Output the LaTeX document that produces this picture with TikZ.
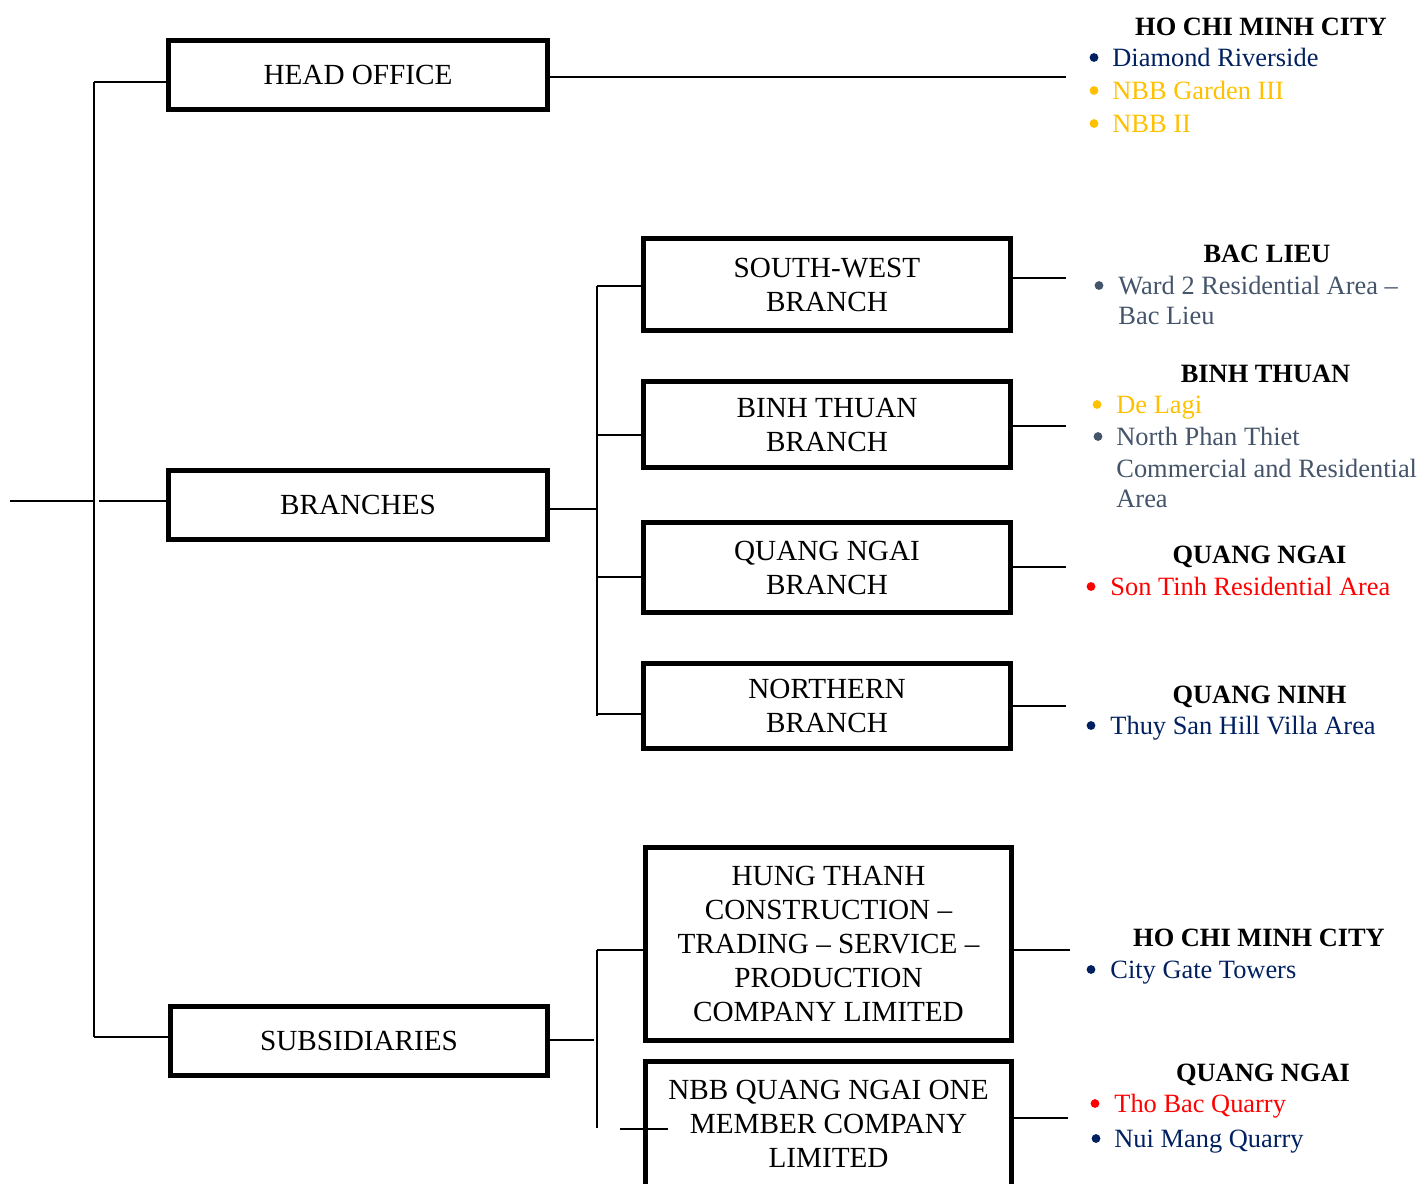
\documentclass[tikz,border=0pt]{standalone}
\usepackage{fontspec}
\setmainfont{Liberation Serif}
\definecolor{navyc}{HTML}{002060}
\definecolor{yellowc}{HTML}{FFC000}
\definecolor{slatec}{HTML}{44546A}
\definecolor{redc}{HTML}{FF0000}
\begin{document}
\begin{tikzpicture}[x=0.5pt,y=-0.5pt,
  box/.style={draw, line width=2.5pt, inner sep=0pt, align=center, font=\fontsize{14.6}{17}\selectfont},
  wire/.style={line width=0.8pt},
  head/.style={anchor=base, inner sep=0pt, font=\fontsize{13.2}{16}\selectfont\bfseries},
  item/.style={anchor=base west, inner sep=0pt, font=\fontsize{13.2}{16}\selectfont},
  dot/.style={circle, fill, inner sep=0pt, minimum size=4.4pt}]
\useasboundingbox (0,0) rectangle (1422,1183);

% main boxes
\node[box, minimum width=189.5pt, minimum height=34.5pt] (ho) at (358,75) {HEAD OFFICE};
\node[box, minimum width=189.5pt, minimum height=34.5pt] (br) at (358,505) {BRANCHES};
\node[box, minimum width=188.5pt, minimum height=34.5pt] (sub) at (359,1041) {SUBSIDIARIES};
% branches
\node[box, minimum width=183.5pt, minimum height=46pt] (sw) at (827,284.5) {SOUTH-WEST\\BRANCH};
\node[box, minimum width=183.5pt, minimum height=43pt] (bt) at (827,424.5) {BINH THUAN\\BRANCH};
\node[box, minimum width=183.5pt, minimum height=45pt] (qn) at (827,567.5) {QUANG NGAI\\BRANCH};
\node[box, minimum width=183.5pt, minimum height=42.5pt] (nb) at (827,706) {NORTHERN\\BRANCH};
% subsidiaries
\node[box, minimum width=183pt, minimum height=96.5pt] (ht) at (828.5,944) {HUNG THANH\\CONSTRUCTION –\\TRADING – SERVICE –\\PRODUCTION\\COMPANY LIMITED};
\node[box, minimum width=183pt, minimum height=62.5pt] (nbb) at (828.5,1124) {NBB QUANG NGAI ONE\\MEMBER COMPANY\\LIMITED};

% main spine
\coordinate (sp1) at (94,82);
\coordinate (sp2) at (94,1037);
\draw[wire] (sp1) -- (sp2);
\draw[wire] (sp1) -- (ho.west |- sp1);
\draw[wire] (sp2) -- (sub.west |- sp2);
\coordinate (inL) at (10,501);
\coordinate (inM) at (94,501);
\coordinate (inR) at (99,501);
\draw[wire] (inL) -- (inM);
\draw[wire] (inR) -- (br.west |- inR);

% branch spine
\coordinate (bs1) at (597,286);
\coordinate (bs2) at (597,716);
\coordinate (bsin) at (597,509);
\coordinate (bsbt) at (597,435);
\coordinate (bsqn) at (597,577);
\coordinate (bsnb) at (597,714);
\draw[wire] (bs1) -- (bs2);
\draw[wire] (br.east |- bsin) -- (bsin);
\draw[wire] (bs1) -- (sw.west |- bs1);
\draw[wire] (bsbt) -- (bt.west |- bsbt);
\draw[wire] (bsqn) -- (qn.west |- bsqn);
\draw[wire] (bsnb) -- (nb.west |- bsnb);

% subsidiary spine
\coordinate (ss1) at (597,950);
\coordinate (ss2) at (597,1128);
\coordinate (ssin) at (594,1040);
\coordinate (nbbL) at (620,1129);
\coordinate (nbbR) at (668,1129);
\draw[wire] (ss1) -- (ss2);
\draw[wire] (sub.east |- ssin) -- (ssin);
\draw[wire] (ss1) -- (ht.west |- ss1);
\draw[wire] (nbbL) -- (nbbR);

% right leaders
\coordinate (hoR) at (1066,77);
\coordinate (swR) at (1066,278);
\coordinate (btR) at (1066,426);
\coordinate (qnR) at (1066,567);
\coordinate (nbR) at (1066,706);
\coordinate (htR) at (1070,950);
\coordinate (nbbRR) at (1068,1118);
\draw[wire] (ho.east |- hoR) -- (hoR);
\draw[wire] (sw.east |- swR) -- (swR);
\draw[wire] (bt.east |- btR) -- (btR);
\draw[wire] (qn.east |- qnR) -- (qnR);
\draw[wire] (nb.east |- nbR) -- (nbR);
\draw[wire] (ht.east |- htR) -- (htR);
\draw[wire] (nbb.east |- nbbRR) -- (nbbRR);

% right texts
\node[head] (h1) at (1261,35) {HO CHI MINH CITY};
\node[dot, navyc] (d1a) at (1094,57.5) {};
\node[item, navyc] (t1a) at (1112,66) {Diamond Riverside};
\node[dot, yellowc] (d1b) at (1094,90.5) {};
\node[item, yellowc] (t1b) at (1112,99) {NBB Garden III};
\node[dot, yellowc] (d1c) at (1094,123.5) {};
\node[item, yellowc] (t1c) at (1112,132) {NBB II};

\node[head] (h2) at (1267,262) {BAC LIEU};
\node[dot, slatec] (d2a) at (1099,285.5) {};
\node[item, slatec] (t2a) at (1118,294) {Ward 2 Residential Area –};
\node[item, slatec] (t2b) at (1118,324) {Bac Lieu};

\node[head] (h3) at (1265.5,382) {BINH THUAN};
\node[dot, yellowc] (d3a) at (1097,404.5) {};
\node[item, yellowc] (t3a) at (1116,413) {De Lagi};
\node[dot, slatec] (d3b) at (1098,436.5) {};
\node[item, slatec] (t3b) at (1116,445) {North Phan Thiet};
\node[item, slatec] (t3c) at (1116,477) {Commercial and Residential};
\node[item, slatec] (t3d) at (1116,507) {Area};

\node[head] (h4) at (1259.5,563) {QUANG NGAI};
\node[dot, redc] (d4a) at (1091,586.5) {};
\node[item, redc] (t4a) at (1110,595) {Son Tinh Residential Area};

\node[head] (h5) at (1259.5,703) {QUANG NINH};
\node[dot, navyc] (d5a) at (1091,725.5) {};
\node[item, navyc] (t5a) at (1110,734) {Thuy San Hill Villa Area};

\node[head] (h6) at (1259,946) {HO CHI MINH CITY};
\node[dot, navyc] (d6a) at (1091,969.5) {};
\node[item, navyc] (t6a) at (1110,978) {City Gate Towers};

\node[head] (h7) at (1263,1081) {QUANG NGAI};
\node[dot, redc] (d7a) at (1095,1103.5) {};
\node[item, redc] (t7a) at (1114,1112) {Tho Bac Quarry};
\node[dot, navyc] (d7b) at (1096,1138.5) {};
\node[item, navyc] (t7b) at (1114,1147) {Nui Mang Quarry};
\end{tikzpicture}
\end{document}
